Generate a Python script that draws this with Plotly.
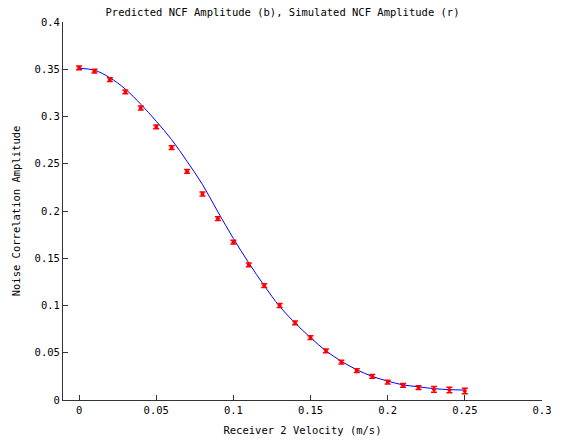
import plotly.graph_objects as go

# Simulated NCF amplitude (red points with error bars)
sim_x = [0.00, 0.01, 0.02, 0.03, 0.04, 0.05, 0.06, 0.07, 0.08, 0.09, 0.10, 0.11, 0.12,
         0.13, 0.14, 0.15, 0.16, 0.17, 0.18, 0.19, 0.20, 0.21, 0.22, 0.23, 0.24, 0.25]
sim_y = [0.3515, 0.348, 0.339, 0.326, 0.309, 0.289, 0.267, 0.242, 0.218, 0.192, 0.167,
         0.143, 0.121, 0.100, 0.0815, 0.066, 0.052, 0.040, 0.031, 0.025, 0.019, 0.0155,
         0.013, 0.0113, 0.0106, 0.0095]
sim_err = [0.002, 0.002, 0.002, 0.002, 0.002, 0.002, 0.002, 0.002, 0.002, 0.002, 0.002,
           0.002, 0.002, 0.002, 0.002, 0.002, 0.002, 0.002, 0.002, 0.002, 0.002, 0.002,
           0.002, 0.003, 0.003, 0.003]

# Predicted NCF amplitude (blue curve)
pred_x = [0.00, 0.01, 0.02, 0.03, 0.04, 0.05, 0.06, 0.07, 0.08, 0.09, 0.10, 0.11, 0.12,
          0.13, 0.14, 0.15, 0.16, 0.17, 0.18, 0.19, 0.20, 0.21, 0.22, 0.23, 0.24, 0.25]
pred_y = [0.351, 0.349, 0.341, 0.329, 0.313, 0.295, 0.2755, 0.2525, 0.228, 0.199, 0.171,
          0.145, 0.121, 0.099, 0.0815, 0.066, 0.052, 0.041, 0.032, 0.025, 0.020, 0.016,
          0.014, 0.012, 0.011, 0.0105]

x_ticks = [0, 0.05, 0.1, 0.15, 0.2, 0.25, 0.3]
x_labels = ["0", "0.05", "0.1", "0.15", "0.2", "0.25", "0.3"]
y_ticks = [0, 0.05, 0.1, 0.15, 0.2, 0.25, 0.3, 0.35, 0.4]
y_labels = ["0", "0.05", "0.1", "0.15", "0.2", "0.25", "0.3", "0.35", "0.4"]

FONT = "DejaVu Sans Mono"

fig = go.Figure()
fig.add_trace(go.Scatter(
    x=pred_x, y=pred_y, mode="lines",
    line=dict(color="#0000ff", width=1, shape="spline"),
    hoverinfo="skip", showlegend=False))
fig.add_trace(go.Scatter(
    x=sim_x, y=sim_y, mode="markers",
    marker=dict(color="#ff0000", size=4, symbol="circle"),
    error_y=dict(type="data", array=sim_err, visible=True, color="#ff0000",
                 thickness=1.5, width=3),
    showlegend=False))

axis_common = dict(
    showgrid=False, zeroline=False, showline=True, linecolor="#333333", linewidth=1,
    ticks="inside", ticklen=5, tickcolor="#333333", mirror=False, automargin=False,
    tickfont=dict(family=FONT, size=10.5, color="#000000"),
)

fig.update_layout(
    width=565, height=442,
    margin=dict(l=63, r=23, t=22, b=42, autoexpand=False),
    paper_bgcolor="white", plot_bgcolor="white",
    font=dict(family=FONT, size=10.5, color="#000000"),
    title=dict(text="Predicted NCF Amplitude (b), Simulated NCF Amplitude (r)",
               x=0.5, xanchor="center", xref="container",
               y=1 - 12 / 442, yanchor="middle", yref="container",
               font=dict(family=FONT, size=10.5, color="#000000")),
    xaxis=dict(range=[-0.0104, 0.3], tickvals=x_ticks, ticktext=x_labels,
               title=dict(text="Receiver 2 Velocity (m/s)", standoff=12,
                          font=dict(family=FONT, size=10.5)),
               **axis_common),
    yaxis=dict(range=[0, 0.4], tickvals=y_ticks, ticktext=y_labels,
               title=dict(text="Noise Correlation Amplitude", standoff=11,
                          font=dict(family=FONT, size=10.5)),
               **axis_common),
)

fig.write_html("out.html", config={"displayModeBar": False},
               post_script="document.body.style.margin='0';")
